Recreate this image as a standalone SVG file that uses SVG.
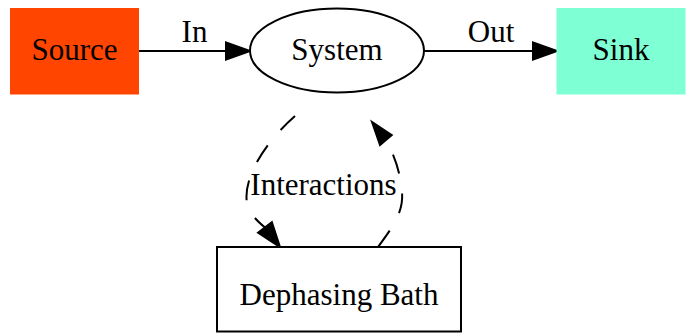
<svg xmlns="http://www.w3.org/2000/svg" width="686" height="333" viewBox="0 0 686 333">
  <defs>
    <style>
      text { font-family: "Liberation Serif", "Times New Roman", serif; font-size: 31px; fill: #000; text-anchor: middle; }
      .edge { fill: none; stroke: #000; stroke-width: 2; }
      .dash { stroke-dasharray: 20 20; }
      .head { fill: #000; stroke: #000; stroke-width: 2; }
    </style>
  </defs>
  <rect width="686" height="333" fill="#ffffff"/>

  <g id="edges">
    <!-- Source -> System -->
    <g id="edge-in">
      <path class="edge" d="M138,51 L227,51"/>
      <polygon class="head" points="226,42.5 250,51 226,59.5"/>
      <text x="194.5" y="42">In</text>
    </g>
    <!-- System -> Sink -->
    <g id="edge-out">
      <path class="edge" d="M424,51 L534,51"/>
      <polygon class="head" points="533,42.5 557,51 533,59.5"/>
      <text x="491" y="42">Out</text>
    </g>
    <!-- System -> Dephasing Bath -->
    <g id="edge-interactions-down">
      <path class="edge dash" d="M295,116 C262,145 243,180 247,203 C249,213 256,220 265,227.5"/>
      <polygon class="head" points="271.9,222.2 280,247 258.1,232.8"/>
    </g>
    <!-- Dephasing Bath -> System -->
    <g id="edge-interactions-up">
      <path class="edge dash" d="M378,247 C392,228 404,212 402,192 C400,170 394,155 386,140"/>
      <polygon class="head" points="380,145 372,122 391.7,135"/>
    </g>
    <text x="323.5" y="195">Interactions</text>
  </g>

  <g id="source">
    <rect x="10.5" y="8.5" width="128" height="85.5" fill="#ff4500" stroke="#ff4500" stroke-width="1"/>
    <text x="74.5" y="60">Source</text>
  </g>

  <g id="system">
    <ellipse cx="337" cy="50.5" rx="87" ry="42" fill="#ffffff" stroke="#000" stroke-width="2"/>
    <text x="337" y="60">System</text>
  </g>

  <g id="sink">
    <rect x="557" y="8.5" width="128" height="85.5" fill="#7fffd4" stroke="#7fffd4" stroke-width="1"/>
    <text x="621" y="60">Sink</text>
  </g>

  <g id="bath">
    <rect x="217" y="247" width="244" height="84.5" fill="#ffffff" stroke="#000" stroke-width="2"/>
    <text x="339" y="305">Dephasing Bath</text>
  </g>
</svg>
